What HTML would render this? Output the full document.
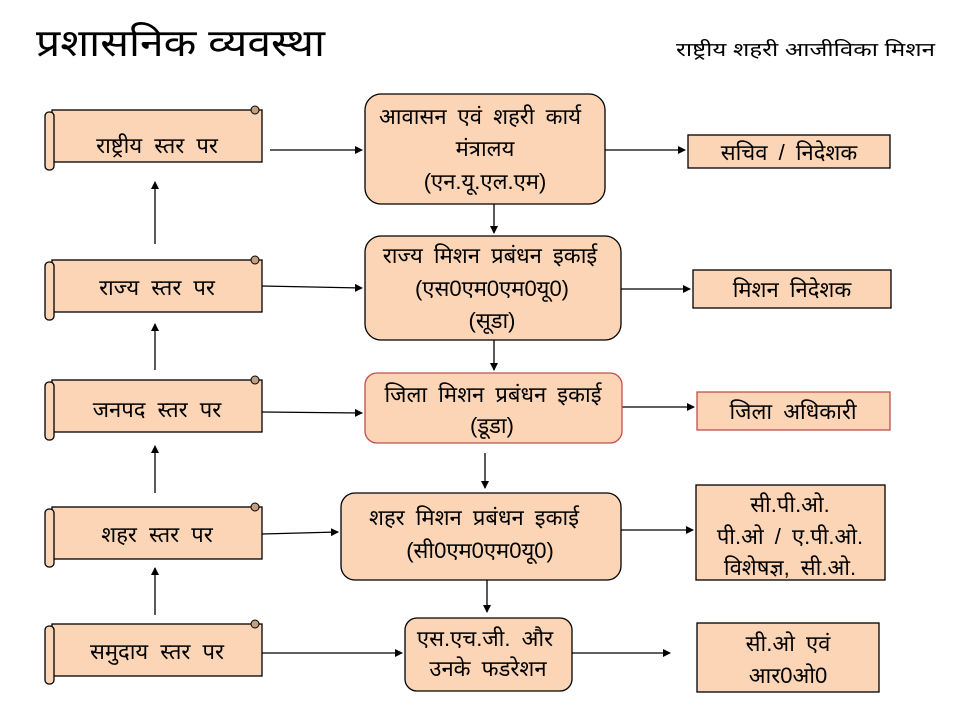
<!DOCTYPE html>
<html><head><meta charset="utf-8"><style>
html,body{margin:0;padding:0;background:#fff;}
svg{display:block;}
text{font-family:"Liberation Sans","Noto Sans CJK SC",sans-serif;fill:#000;text-anchor:middle;}
</style></head><body>
<svg width="960" height="720" viewBox="0 0 960 720" xmlns="http://www.w3.org/2000/svg">
<defs>
<marker id="a" markerWidth="8" markerHeight="8" refX="7" refY="4" orient="auto" markerUnits="userSpaceOnUse">
<path d="M0,0 L8,4 L0,8 z" fill="#000"/></marker>
<g id="scroll">
<rect x="52" y="4" width="210" height="52" fill="#fbd5b5" stroke="#000" stroke-width="1.3"/>
<rect x="45" y="6" width="9" height="58" rx="4" fill="#fbd5b5" stroke="#000" stroke-width="1.3"/>
<circle cx="255" cy="4" r="4" fill="#c0a080" stroke="#000" stroke-width="1"/>
</g>
</defs>
<text x="36" y="56" textLength="289" lengthAdjust="spacingAndGlyphs" style="font-size:38px;text-anchor:start">प्रशासनिक व्यवस्था</text>
<text x="676" y="56" textLength="259" lengthAdjust="spacingAndGlyphs" style="font-size:19px;text-anchor:start">राष्ट्रीय शहरी आजीविका मिशन</text>

<use href="#scroll" y="106"/>
<use href="#scroll" y="256"/>
<use href="#scroll" y="376"/>
<use href="#scroll" y="503"/>
<use href="#scroll" y="620"/>
<g style="font-size:22px;word-spacing:6px">
<text x="157" y="153">राष्ट्रीय स्तर पर</text>
<text x="157" y="295">राज्य स्तर पर</text>
<text x="157" y="417">जनपद स्तर पर</text>
<text x="157" y="542">शहर स्तर पर</text>
<text x="157" y="659">समुदाय स्तर पर</text>
</g>
<g stroke="#000" stroke-width="1.3" marker-end="url(#a)">
<line x1="155" y1="244" x2="155" y2="182"/>
<line x1="155" y1="370" x2="155" y2="324"/>
<line x1="155" y1="493" x2="155" y2="446"/>
<line x1="155" y1="615" x2="155" y2="568"/>
<line x1="270" y1="150" x2="362" y2="150"/>
<line x1="262" y1="286" x2="362" y2="288"/>
<line x1="262" y1="412" x2="362" y2="413"/>
<line x1="262" y1="534" x2="338" y2="532"/>
<line x1="262" y1="653" x2="402" y2="653"/>
<line x1="605" y1="150" x2="685" y2="150"/>
<line x1="620" y1="289" x2="690" y2="289"/>
<line x1="622" y1="407" x2="694" y2="407"/>
<line x1="621" y1="530" x2="693" y2="530"/>
<line x1="572" y1="653" x2="670" y2="653"/>
<line x1="494" y1="204" x2="494" y2="233"/>
<line x1="494" y1="340" x2="494" y2="370"/>
<line x1="485" y1="453" x2="485" y2="488"/>
<line x1="487" y1="580" x2="487" y2="612"/>
</g>
<g fill="#fbd5b5" stroke="#000" stroke-width="1.3">
<rect x="365" y="94" width="240" height="110" rx="16"/>
<rect x="365" y="236" width="256" height="104" rx="16"/>
<rect x="365" y="373" width="257" height="70" rx="12" stroke="#c0504d"/>
<rect x="341" y="493" width="280" height="87" rx="14"/>
<rect x="405" y="618" width="167" height="73" rx="12"/>
<rect x="688" y="135" width="202" height="33"/>
<rect x="693" y="270" width="198" height="38"/>
<rect x="697" y="392" width="193" height="38" stroke="#c0504d"/>
<rect x="696" y="485" width="189" height="95"/>
<rect x="697" y="623" width="182" height="69"/>
</g>
<g style="font-size:22px;word-spacing:5px">
<text x="480" y="124">आवासन एवं शहरी कार्य</text>
<text x="485" y="156">मंत्रालय</text>
<text x="485" y="189">(एन.यू.एल.एम)</text>
<text x="490" y="263">राज्य मिशन प्रबंधन इकाई</text>
<text x="492" y="296">(एस0एम0एम0यू0)</text>
<text x="492" y="328">(सूडा)</text>
<text x="493" y="402">जिला मिशन प्रबंधन इकाई</text>
<text x="492" y="433">(डूडा)</text>
<text x="474" y="525">शहर मिशन प्रबंधन इकाई</text>
<text x="480" y="558">(सी0एम0एम0यू0)</text>
<text x="485" y="646">एस.एच.जी. और</text>
<text x="488" y="676">उनके फडरेशन</text>
<text x="789" y="160">सचिव / निदेशक</text>
<text x="792" y="297">मिशन निदेशक</text>
<text x="793" y="419">जिला अधिकारी</text>
<text x="790" y="512">सी.पी.ओ.</text>
<text x="790" y="544">पी.ओ / ए.पी.ओ.</text>
<text x="790" y="575">विशेषज्ञ, सी.ओ.</text>
<text x="788" y="651">सी.ओ एवं</text>
<text x="788" y="683">आर0ओ0</text>
</g>
</svg>
</body></html>
